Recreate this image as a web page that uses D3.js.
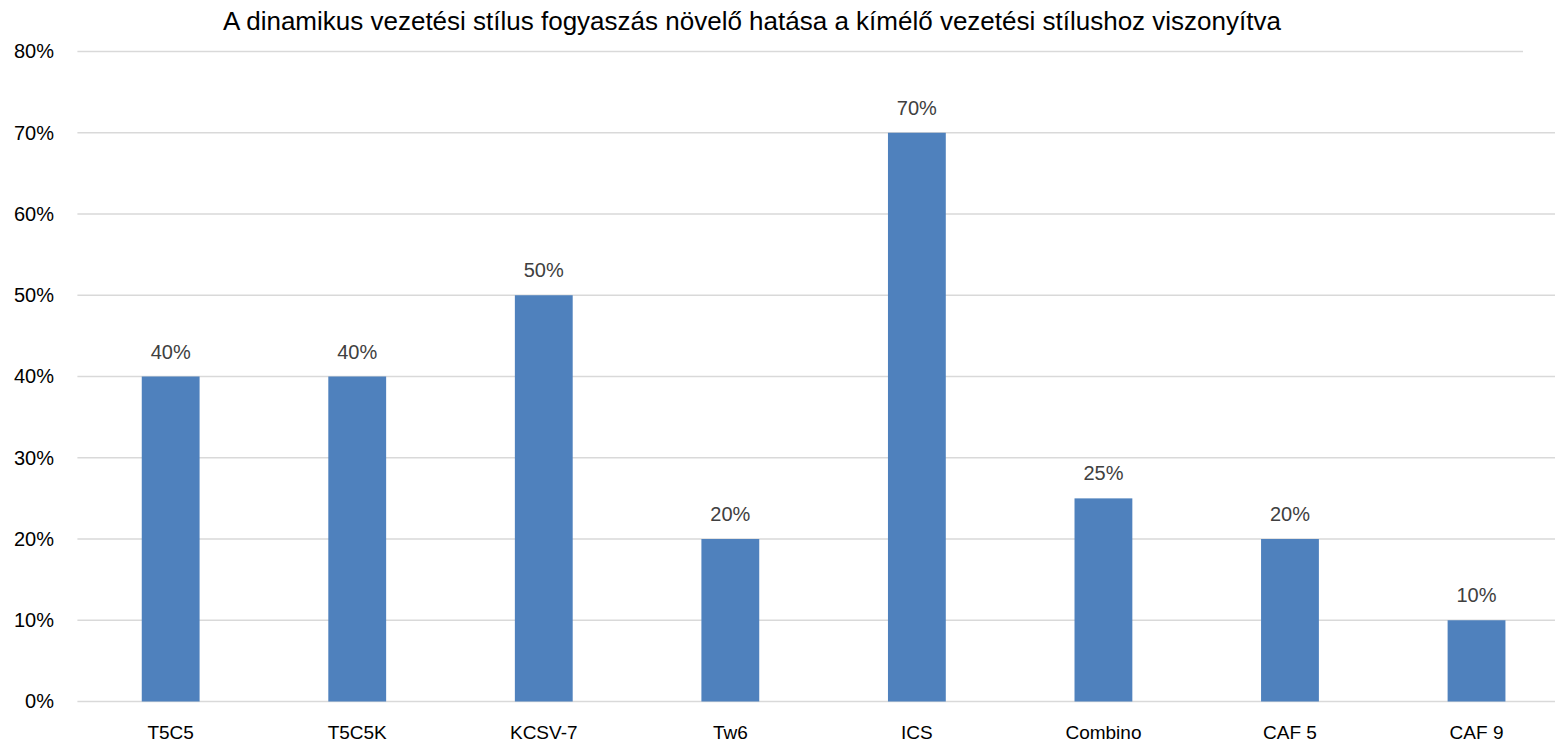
<!DOCTYPE html>
<html>
<head>
<meta charset="utf-8">
<script src="https://cdn.jsdelivr.net/npm/d3@7"></script>
<style>
body{margin:0;background:#fff;}
text{font-family:"Liberation Sans",Arial,sans-serif;}
</style>
</head>
<body>
<svg id="chart" width="1555" height="744"></svg>
<script>
// chart data
var title="A dinamikus vezetési stílus fogyaszás növelő hatása a kímélő vezetési stílushoz viszonyítva";
var categories=["T5C5","T5C5K","KCSV-7","Tw6","ICS","Combino","CAF 5","CAF 9"];
var values=[0.40,0.40,0.50,0.20,0.70,0.25,0.20,0.10];
var yTicks=[0,0.1,0.2,0.3,0.4,0.5,0.6,0.7,0.8];

var svg=d3.select("#chart");
var pLeft=77.4, pRight=1569.8, pTop=51.5, pBottom=701.5;

var x=d3.scaleBand().domain(categories).range([pLeft,pRight]).paddingInner(0.69).paddingOuter(0.345);
var y=d3.scaleLinear().domain([0,0.8]).range([pBottom,pTop]);
var fmt=d3.format(".0%");

// gridlines (top one stops short, as in the original)
svg.append("g").selectAll("line").data(yTicks).enter().append("line")
	.attr("x1",pLeft).attr("x2",function(d){return d==0.8?1523:pRight;})
	.attr("y1",function(d){return y(d);}).attr("y2",function(d){return y(d);})
	.attr("stroke","#d9d9d9").attr("stroke-width",1.5);

// y axis labels
var yAxis=d3.axisLeft(y).tickValues(yTicks).tickFormat(fmt).tickSize(0).tickPadding(0);
var ga=svg.append("g").attr("transform","translate(54,0)").call(yAxis);
ga.select(".domain").remove();
ga.selectAll("text").attr("font-size",20).attr("fill","#000").attr("font-family","Liberation Sans, Arial, sans-serif");

// x axis labels
var xAxis=d3.axisBottom(x).tickSize(0).tickPadding(0);
var gx=svg.append("g").attr("transform","translate(0,725)").call(xAxis);
gx.select(".domain").remove();
gx.selectAll("text").attr("font-size",19).attr("fill","#000").attr("font-family","Liberation Sans, Arial, sans-serif");

// bars
svg.append("g").selectAll("rect").data(values).enter().append("rect")
	.attr("x",function(d,i){return x(categories[i]);})
	.attr("width",x.bandwidth())
	.attr("y",function(d){return y(d);})
	.attr("height",function(d){return y(0)-y(d);})
	.attr("fill","#4f81bd");

// value labels
svg.append("g").selectAll("text").data(values).enter().append("text")
	.attr("x",function(d,i){return x(categories[i])+x.bandwidth()/2;})
	.attr("y",function(d){return y(d)-18;})
	.attr("text-anchor","middle").attr("font-size",20).attr("fill","#404040")
	.text(function(d){return fmt(d);});

// title
svg.append("text").attr("x",752).attr("y",30).attr("text-anchor","middle")
	.attr("font-size",26).attr("fill","#000").text(title);
</script>
</body>
</html>
